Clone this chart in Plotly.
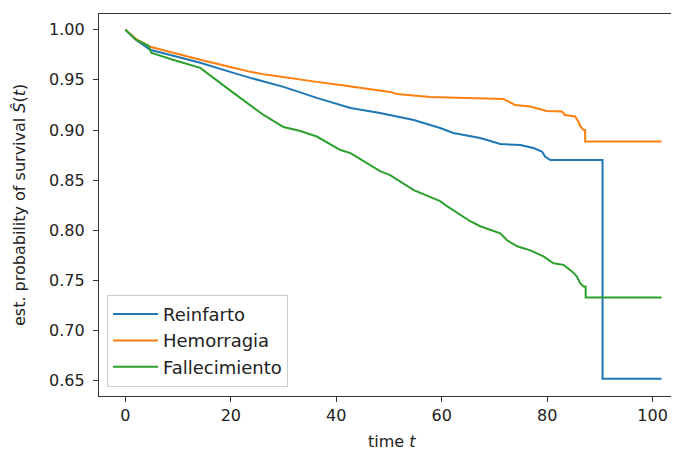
import plotly.graph_objects as go

# Kaplan-Meier estimates
reinfarto_t = [0, 2, 4.7, 9, 14.2, 20.5, 23.7, 30.0, 36.3, 42.7, 48.3, 54.7, 59.7, 62.2,
               67.3, 71.1, 74.9, 77.4, 79.0, 79.6, 80.6, 90.5, 90.5, 101.7]
reinfarto_s = [1.0, 0.990, 0.980, 0.974, 0.967, 0.957, 0.952, 0.943, 0.932, 0.922,
               0.917, 0.910, 0.902, 0.897, 0.892, 0.886, 0.885, 0.882, 0.8785, 0.8735,
               0.870, 0.870, 0.652, 0.652]

hemorragia_t = [0, 2, 4.7, 9, 14.2, 20.5, 23.7, 26.9, 33.2, 36.3, 40.8, 48.3, 50.2,
                51.5, 57.8, 71.7, 73.0, 73.9, 76.8, 79.9, 82.8, 83.4, 85.3, 85.9, 86.3,
                86.9, 87.2, 87.2, 101.7]
hemorragia_s = [1.0, 0.991, 0.983, 0.977, 0.970, 0.962, 0.958, 0.955, 0.950, 0.948,
                0.945, 0.940, 0.938, 0.936, 0.933, 0.931, 0.927, 0.925, 0.9235, 0.919,
                0.9185, 0.915, 0.9135, 0.9085, 0.9035, 0.900, 0.900, 0.8885, 0.8885]

fallecimiento_t = [0, 2, 4.4, 4.9, 9, 14.2, 20.5, 23.7, 26.2, 30.0, 33.2, 36.3, 40.8,
                   42.7, 48.3, 50.2, 54.7, 59.7, 61.0, 65.4, 67.3, 71.1, 72.4, 74.3,
                   76.8, 79.3, 81.2, 83.1, 84.7, 85.6, 86.3, 86.9, 87.3, 87.3, 101.7]
fallecimiento_s = [1.0, 0.990, 0.984, 0.977, 0.970, 0.962, 0.937, 0.925, 0.915, 0.903,
                   0.899, 0.8935, 0.880, 0.877, 0.859, 0.855, 0.840, 0.829, 0.824,
                   0.809, 0.804, 0.797, 0.790, 0.784, 0.780, 0.774, 0.767, 0.7655,
                   0.759, 0.754, 0.747, 0.744, 0.744, 0.733, 0.733]

series_names = ["Reinfarto", "Hemorragia", "Fallecimiento"]
series_colors = ["#1f77b4", "#ff7f0e", "#2ca02c"]

x_ticks = [0, 20, 40, 60, 80, 100]
y_ticks = [0.65, 0.70, 0.75, 0.80, 0.85, 0.90, 0.95, 1.00]

FONT = "DejaVu Sans"
fig = go.Figure()
for name, color, t, s in zip(series_names, series_colors,
                             [reinfarto_t, hemorragia_t, fallecimiento_t],
                             [reinfarto_s, hemorragia_s, fallecimiento_s]):
    fig.add_trace(go.Scatter(x=t, y=s, mode="lines", name=name,
                             line=dict(color=color, width=2)))

# page body has an 8px margin, so the figure is 8px smaller and shifted
fig.update_layout(
    width=671, height=444,
    margin=dict(l=91, r=0, t=6, b=56),
    paper_bgcolor="white", plot_bgcolor="white",
    font=dict(family=FONT, size=16, color="#222"),
    showlegend=True,
    legend=dict(x=0.0138, y=0.024, xanchor="left", yanchor="bottom",
                bordercolor="#cccccc", borderwidth=1, bgcolor="rgba(255,255,255,0.8)",
                itemwidth=45,
                font=dict(family=FONT, size=18, color="#222")),
    xaxis=dict(range=[-5.0, 105.0], tickvals=x_ticks,
               ticktext=[str(v) for v in x_ticks],
               showgrid=False, zeroline=False, showline=True, mirror=True,
               linecolor="#333", linewidth=1.3, ticks="outside", ticklen=5,
               tickcolor="#333", tickwidth=1.3),
    yaxis=dict(range=[0.6347, 1.0157], tickvals=y_ticks,
               ticktext=["%.2f" % v for v in y_ticks],
               showgrid=False, zeroline=False, showline=True, mirror=False,
               linecolor="#333", linewidth=1.3, ticks="outside", ticklen=5,
               tickcolor="#333", tickwidth=1.3, ticklabelstandoff=5),
    annotations=[
        dict(text="time <i>t</i>", xref="x", x=50.6, yref="paper", y=0,
             xanchor="center", yanchor="middle", yshift=-45.5, showarrow=False,
             font=dict(family=FONT, size=16, color="#222")),
        dict(text="est. probability of survival <i>Ŝ</i>(<i>t</i>)", xref="paper", x=0,
             xshift=-80, yref="paper", y=0.5, xanchor="center", yanchor="middle",
             textangle=-90, showarrow=False,
             font=dict(family=FONT, size=16, color="#222")),
    ],
)

fig.write_html("out.html")
